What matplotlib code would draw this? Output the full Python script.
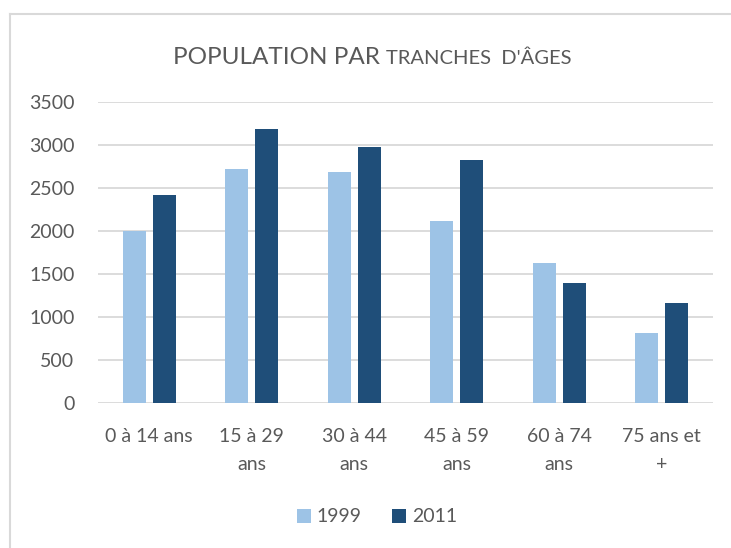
import matplotlib.pyplot as plt
import numpy as np

# --------------------------
# Data
# --------------------------
categories = ["0 à 14 ans", "15 à 29\nans", "30 à 44\nans", "45 à 59\nans", "60 à 74\nans", "75 ans et\n+"]
pop_1999 = [1995, 2725, 2680, 2120, 1630, 815]
pop_2011 = [2420, 3190, 2980, 2820, 1395, 1160]
series_names = ["1999", "2011"]

c_1999 = "#9DC3E6"
c_2011 = "#1F4E79"
txt = "#595959"
grid = "#D9D9D9"

plt.rcParams['font.family'] = ['Lato', 'DejaVu Sans']

fig = plt.figure(figsize=(7.31, 5.48), dpi=100)
ax = fig.add_axes([98/731, 1 - 402.7/548, 615/731, 300.7/548])

x = np.arange(len(categories))
w = 0.225
off = 0.145
b1 = ax.bar(x - off, pop_1999, w, color=c_1999, label=series_names[0], zorder=3)
b2 = ax.bar(x + off, pop_2011, w, color=c_2011, label=series_names[1], zorder=3)

ax.set_xlim(-0.5, len(categories) - 0.5)
ax.set_ylim(0, 3500)
ax.set_yticks(range(0, 3501, 500))
ax.set_xticks(x)
ax.set_xticklabels(categories, linespacing=1.8)
ax.yaxis.grid(True, color=grid, linewidth=1.3, zorder=0)
ax.set_axisbelow(True)
for s in ax.spines.values():
    s.set_visible(False)
ax.tick_params(axis='both', length=0, labelsize=14, labelcolor=txt)
ax.tick_params(axis='y', pad=17)
ax.tick_params(axis='x', pad=18)

# title with small caps look
t1 = fig.text(173/731, 1 - 64/548, "POPULATION PAR ", fontsize=17.5, color=txt,
              ha='left', va='baseline')
fig.canvas.draw()
bb = t1.get_window_extent()
fig.text(bb.x1 / fig.bbox.width, 1 - 64/548, "TRANCHES  D'ÂGES", fontsize=14.5,
         color=txt, ha='left', va='baseline')

leg = fig.legend(handles=[b1, b2], labels=series_names, loc='center',
                 bbox_to_anchor=(377/731, 1 - 517/548), ncol=2, frameon=False,
                 fontsize=14, handlelength=0.7, handleheight=0.7,
                 handletextpad=0.3, columnspacing=1.6, labelcolor=txt)

# chart border
fig.add_artist(plt.Line2D([9.5/731, 9.5/731], [0, 1 - 14/548], color="#D9D9D9", lw=1.5))
fig.add_artist(plt.Line2D([9.5/731, 1], [1 - 14/548, 1 - 14/548], color="#D9D9D9", lw=1.5))

fig.savefig("out.png", dpi=100)
